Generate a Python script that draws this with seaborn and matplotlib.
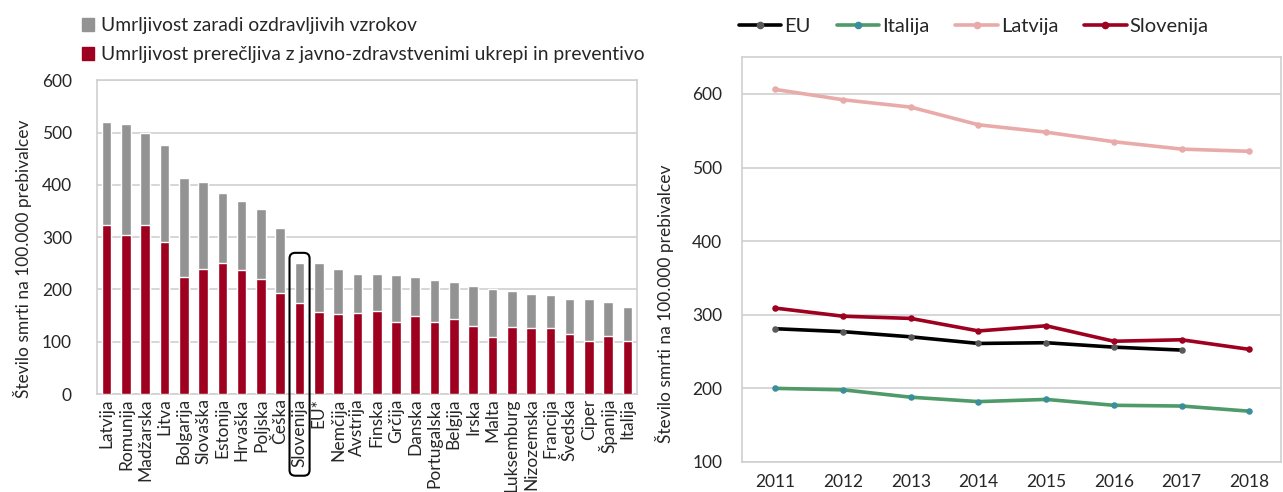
import numpy as np
import pandas as pd
import matplotlib
matplotlib.use("Agg")
import matplotlib.pyplot as plt
import seaborn as sns
from matplotlib.patches import FancyBboxPatch, Patch
from matplotlib.lines import Line2D
import matplotlib.transforms as mtransforms

# data - left chart
countries = ["Latvija", "Romunija", "Madžarska", "Litva", "Bolgarija", "Slovaška",
             "Estonija", "Hrvaška", "Poljska", "Češka", "Slovenija", "EU*", "Nemčija",
             "Avstrija", "Finska", "Grčija", "Danska", "Portugalska", "Belgija", "Irska",
             "Malta", "Luksemburg", "Nizozemska", "Francija", "Švedska", "Ciper",
             "Španija", "Italija"]
total = [520, 516, 500, 477, 413, 405, 385, 370, 354, 317, 251, 251, 239,
         230, 229, 227, 224, 219, 215, 206, 201, 197, 191, 190, 182, 182, 176, 167]
preventable = [323, 305, 323, 291, 224, 239, 251, 237, 220, 193, 174, 157, 153,
               155, 158, 137, 150, 137, 144, 130, 109, 128, 127, 127, 115, 102, 111, 102]

# data - right chart
years = [2011, 2012, 2013, 2014, 2015, 2016, 2017, 2018]
eu = [281, 277, 270, 261, 262, 256, 252, np.nan]
italija = [200, 198, 188, 182, 185, 177, 176, 169]
latvija = [606, 592, 582, 558, 548, 535, 525, 522]
slovenija = [309, 298, 295, 278, 285, 264, 266, 253]

sns.set_style("white")
plt.rcParams['font.family'] = ['Lato', 'DejaVu Sans']
plt.rcParams['font.size'] = 12.5

grey = "#939393"
red = "#9E0020"
gridc = "#CFCFCF"

fig = plt.figure(figsize=(12.83, 4.92), dpi=100)
ax1 = fig.add_axes([0.0756, 0.199, 0.421, 0.638])
ax2 = fig.add_axes([0.578, 0.061, 0.4205, 0.823])

df = pd.DataFrame({"drzava": countries, "skupaj": total, "prep": preventable})
sns.barplot(data=df, x="drzava", y="skupaj", color=grey, width=0.5,
            saturation=1, ax=ax1, zorder=2)
sns.barplot(data=df, x="drzava", y="prep", color=red, width=0.5,
            saturation=1, ax=ax1, zorder=3)
ax1.set_xlim(-0.5, len(countries) - 0.5)
ax1.set_ylim(0, 600)
ax1.set_yticks(range(0, 601, 100))
ax1.yaxis.grid(True, color=gridc, lw=1.2, zorder=0)
ax1.set_axisbelow(True)
for s in ax1.spines.values():
    s.set_color(gridc)
    s.set_linewidth(1.2)
ax1.tick_params(axis="x", rotation=90, length=0, pad=3)
ax1.tick_params(axis="y", length=0, pad=18)
ax1.set_xlabel("")
ax1.set_ylabel("Število smrti na 100.000 prebivalcev")
ax1.yaxis.set_label_coords(-0.12, 0.43)

# box around Slovenija
idx = countries.index("Slovenija")
trans = mtransforms.blended_transform_factory(ax1.transData, ax1.transAxes)
box = FancyBboxPatch((idx - 0.52, -0.26), 1.04, 0.71,
                     boxstyle="round,pad=0,rounding_size=0.3", mutation_aspect=0.06,
                     fill=False, ec="black", lw=1.5, transform=trans, clip_on=False, zorder=5)
ax1.add_patch(box)

leg1 = [Patch(color=grey, label="Umrljivost zaradi ozdravljivih vzrokov"),
        Patch(color=red, label="Umrljivost prerečljiva z javno-zdravstvenimi ukrepi in preventivo")]
fig.legend(handles=leg1, loc="upper left", bbox_to_anchor=(0.05, 1.0), frameon=False,
           handlelength=0.65, handleheight=0.65, handletextpad=0.35, labelspacing=0.62,
           fontsize=13.9)

# right chart
long = pd.DataFrame({"leto": years * 4,
                     "vrednost": eu + italija + latvija + slovenija,
                     "serija": ["EU"] * 8 + ["Italija"] * 8 + ["Latvija"] * 8 + ["Slovenija"] * 8})
line_cols = {"EU": "#000000", "Italija": "#4E9A68", "Latvija": "#E8ABA9", "Slovenija": red}
mark_cols = {"EU": "#595959", "Italija": "#3A8F9A", "Latvija": "#E8ABA9", "Slovenija": red}
sns.lineplot(data=long, x="leto", y="vrednost", hue="serija", palette=line_cols,
             lw=2.6, ax=ax2, legend=False, zorder=3)
for name, vals in zip(["EU", "Italija", "Latvija", "Slovenija"], [eu, italija, latvija, slovenija]):
    ax2.scatter(years, vals, s=22, color=mark_cols[name], zorder=4, linewidths=0)
ax2.set_xlim(2010.5, 2018.47)
ax2.set_ylim(100, 650)
ax2.set_yticks(range(100, 601, 100))
ax2.set_xticks(years)
ax2.yaxis.grid(True, color=gridc, lw=1.2, zorder=0)
for s in ax2.spines.values():
    s.set_color(gridc)
    s.set_linewidth(1.2)
ax2.tick_params(axis="x", length=0, pad=9)
ax2.tick_params(axis="y", length=0, pad=14)
ax2.set_xlabel("")
ax2.set_ylabel("Število smrti na 100.000 prebivalcev")
ax2.yaxis.set_label_coords(-0.125, 0.39)

leg2 = [Line2D([0], [0], color=line_cols[n], lw=2.6, marker="o", ms=4.5,
               mfc=mark_cols[n], mec=mark_cols[n], label=n)
        for n in ["EU", "Italija", "Latvija", "Slovenija"]]
fig.legend(handles=leg2, loc="upper left", bbox_to_anchor=(0.5617, 1.0), ncol=4,
           frameon=False, handlelength=2.1, handletextpad=0.15, columnspacing=1.3,
           fontsize=14.5)

fig.savefig("out.png", dpi=100)
